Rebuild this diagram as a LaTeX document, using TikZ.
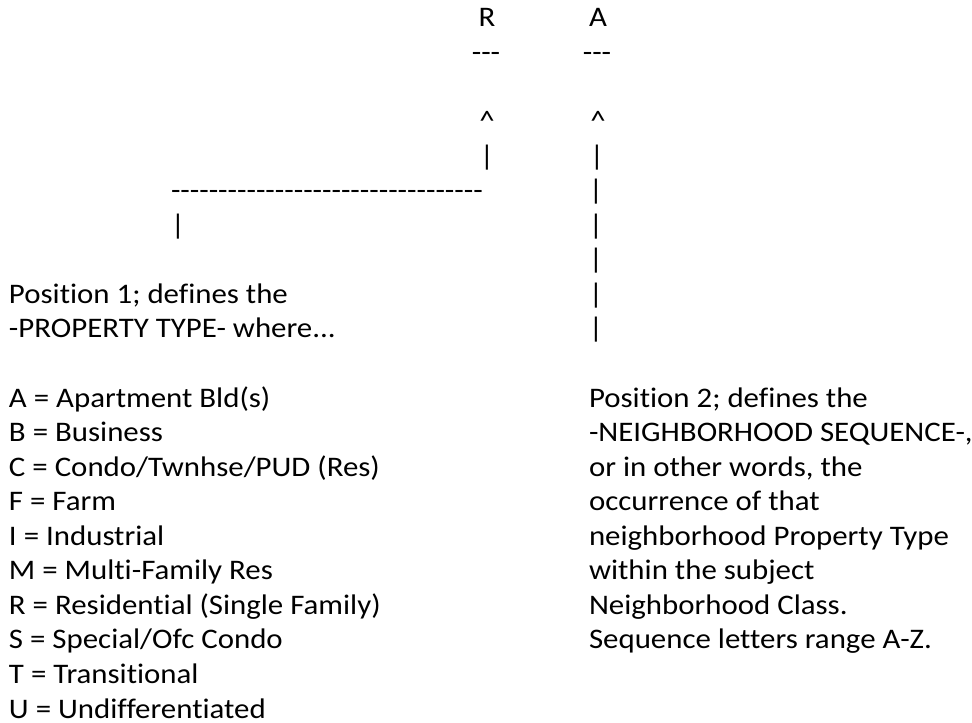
\documentclass[tikz,border=0pt]{standalone}
\usepackage{fontspec}
\setmainfont{Carlito}[Ligatures={TeXOff,NoCommon},FakeStretch=1.09]
\begin{document}
\begin{tikzpicture}[x=0.4237pt,y=-0.4237pt,
  every node/.style={inner sep=0pt, outer sep=0pt, font=\fontsize{12}{14.64}\selectfont},
  txt/.style={anchor=base west},
  ch/.style={anchor=base}]
\useasboundingbox (0,0) rectangle (972,723);
% row baselines: 27 + 34.55*i
% top labels
\node[ch] (rlab) at (487,27) {R};
\node[ch] (alab) at (598,27) {A};
\node[ch] (rdash) at (486,61.6) {-{}-{}-};
\node[ch] (adash) at (597,61.6) {-{}-{}-};
\node[ch] (rcaret) at (487,130.7) {\^{}};
\node[ch] (acaret) at (598,130.7) {\^{}};
% R column
\node[ch] (rbar) at (487,165.2) {|};
\node[txt] (hline) at (171,199.8) {---------------------------------};
\node[ch] (lbar) at (178,234.3) {|};
% A column
\node[ch] (abar1) at (597,165.2) {|};
\node[ch] (abar2) at (596,199.8) {|};
\node[ch] (abar3) at (596,234.3) {|};
\node[ch] (abar4) at (596,268.9) {|};
\node[ch] (abar5) at (596,303.4) {|};
\node[ch] (abar6) at (596,338) {|};
% left text
\node[txt] (p1a) at (9,303.4) {Position 1; defines the};
\node[txt] (p1b) at (9,338) {-PROPERTY TYPE- where...};
\node[txt] (la) at (9,407.1) {A = Apartment Bld(s)};
\node[txt] (lb) at (9,441.6) {B = Business};
\node[txt] (lc) at (9,476.2) {C = Condo/Twnhse/PUD (Res)};
\node[txt] (lf) at (9,510.7) {F = Farm};
\node[txt] (li) at (9,545.3) {I = Industrial};
\node[txt] (lm) at (9,579.8) {M = Multi-Family Res};
\node[txt] (lr) at (9,614.4) {R = Residential (Single Family)};
\node[txt] (ls) at (9,648.9) {S = Special/Ofc Condo};
\node[txt] (lt) at (9,683.5) {T = Transitional};
\node[txt] (lu) at (9,718) {U = Undifferentiated};
% right text
\node[txt] (p2a) at (589,407.1) {Position 2; defines the};
\node[txt] (p2b) at (589,441.6) {-NEIGHBORHOOD SEQUENCE-,};
\node[txt] (p2c) at (589,476.2) {or in other words, the};
\node[txt] (p2d) at (589,510.7) {occurrence of that};
\node[txt] (p2e) at (589,545.3) {neighborhood Property Type};
\node[txt] (p2f) at (589,579.8) {within the subject};
\node[txt] (p2g) at (589,614.4) {Neighborhood Class.};
\node[txt] (p2h) at (589,648.9) {Sequence letters range A-Z.};
\end{tikzpicture}
\end{document}
